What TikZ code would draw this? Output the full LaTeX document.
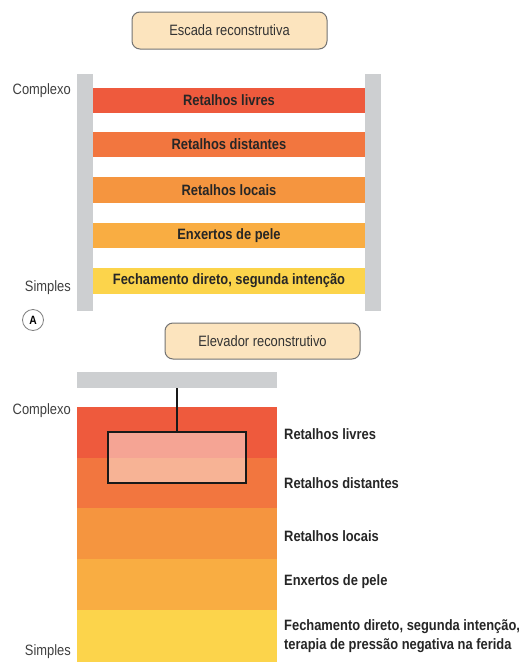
\documentclass[tikz,border=0pt]{standalone}
\usepackage{fontspec}
\setmainfont{Liberation Sans}[FakeStretch=0.86]
\begin{document}
\begin{tikzpicture}[x=1pt,y=1pt,
  titlebox/.style={draw=black!55,line width=1pt,fill=boxfill,rounded corners=8pt,inner sep=0pt,text=black!80},
  rail/.style={fill=railgray,draw=none},
  band/.style={draw=none,inner sep=0pt,font=\fontsize{15}{16}\selectfont\bfseries,text=black!85},
  lbl/.style={font=\fontsize{15}{19}\selectfont\bfseries,anchor=west,align=left,inner sep=0pt,text=black!85},
  side/.style={font=\fontsize{15}{16}\selectfont,anchor=east,inner sep=0pt,text=black!75}
]
\definecolor{boxfill}{HTML}{FCE4BE}
\definecolor{railgray}{HTML}{CDCFD1}
\definecolor{cA}{HTML}{EE5A3D}
\definecolor{cB}{HTML}{F2763F}
\definecolor{cC}{HTML}{F5953F}
\definecolor{cD}{HTML}{F9AD42}
\definecolor{cE}{HTML}{FCD44B}
\useasboundingbox (0,0) rectangle (522,-662);
\fill[white] (0,0) rectangle (522,-662);

% ---- top: ladder ----
\node[titlebox,minimum width=195pt,minimum height=37pt,font=\fontsize{15}{16}\selectfont] (t1) at (229.5,-30.5) {Escada reconstrutiva};
\fill[rail] (77,-74) rectangle (93,-311);
\fill[rail] (365,-74) rectangle (381,-311);
\node[band,fill=cA,minimum width=272pt,minimum height=25pt] (b1) at (229,-100.5) {Retalhos livres};
\node[band,fill=cB,minimum width=272pt,minimum height=25pt] (b2) at (229,-144.5) {Retalhos distantes};
\node[band,fill=cC,minimum width=272pt,minimum height=26pt] (b3) at (229,-190) {Retalhos locais};
\node[band,fill=cD,minimum width=272pt,minimum height=25pt] (b4) at (229,-235.5) {Enxertos de pele};
\node[band,fill=cE,minimum width=272pt,minimum height=26pt] (b5) at (229,-281) {Fechamento direto, segunda intenção};
\node[side] (cx1) at (71,-91) {Complexo};
\node[side] (sp1) at (71,-288) {Simples};
\node[draw=black!50,circle,line width=0.8pt,minimum size=21pt,inner sep=0pt,font=\fontsize{12}{14}\selectfont\bfseries] (A) at (33,-320) {A};

% ---- bottom: elevator ----
\node[titlebox,minimum width=195pt,minimum height=36pt,font=\fontsize{15}{16}\selectfont] (t2) at (262.5,-341) {Elevador reconstrutivo};
\fill[rail] (77,-372) rectangle (277,-388);
\coordinate (hook) at (177,-388);
\fill[cA] (77,-407) rectangle (277,-458);
\fill[cB] (77,-458) rectangle (277,-508);
\fill[cC] (77,-508) rectangle (277,-559);
\fill[cD] (77,-559) rectangle (277,-610);
\fill[cE] (77,-610) rectangle (277,-662);
\node[draw=black!90,line width=1.6pt,fill=white,fill opacity=0.45,minimum width=138pt,minimum height=51pt,inner sep=0pt] (car) at (177,-457.5) {};
\draw[line width=1.6pt,black!90] (hook) -- (car.north);
\node[lbl] (l1) at (284,-434) {Retalhos livres};
\node[lbl] (l2) at (284,-483) {Retalhos distantes};
\node[lbl] (l3) at (284,-536) {Retalhos locais};
\node[lbl] (l4) at (284,-582) {Enxertos de pele};
\node[lbl] (l5) at (284,-636.5) {Fechamento direto, segunda intenção,\\terapia de pressão negativa na ferida};
\node[side] (cx2) at (71,-411) {Complexo};
\node[side] (sp2) at (71,-652) {Simples};
\end{tikzpicture}
\end{document}
